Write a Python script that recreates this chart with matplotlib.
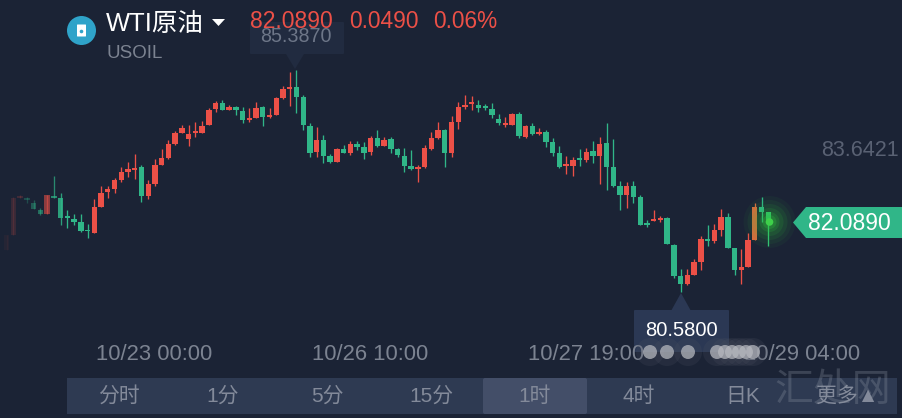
import matplotlib
matplotlib.use('Agg')
import matplotlib.pyplot as plt
from matplotlib.patches import Circle, FancyBboxPatch, Polygon, Rectangle

# OHLC, one hourly candle per entry
opens = [81.43, 81.76, 82.58, 82.58, 82.46, 82.31, 82.22, 82.62, 82.58, 82.18,
         82.11, 82.04, 81.87, 81.81, 82.38, 82.71, 82.77, 82.97, 83.15, 83.19,
         83.26, 82.61, 82.88, 83.30, 83.46, 83.76, 84.01, 83.87, 84.00, 84.00,
         84.19, 84.53, 84.66, 84.52, 84.58, 84.49, 84.29, 84.34, 84.58, 84.35,
         84.41, 84.77, 84.97, 85.02, 84.79, 84.16, 83.59, 83.85, 83.49, 83.37,
         83.65, 83.56, 83.76, 83.70, 83.59, 83.90, 83.72, 83.87, 83.65, 83.50,
         83.28, 83.22, 83.25, 83.65, 83.90, 84.07, 83.57, 84.25, 84.58, 84.64,
         84.62, 84.60, 84.53, 84.31, 84.18, 84.18, 84.42, 83.92, 84.16, 83.98,
         84.03, 83.81, 83.57, 83.28, 83.28, 83.45, 83.41, 83.61, 83.50, 83.78,
         83.26, 82.84, 82.64, 82.84, 82.60, 82.02, 82.07, 82.08, 82.14, 81.54,
         80.86, 80.68, 80.88, 81.17, 81.67, 81.63, 81.87, 82.16, 81.48, 80.99,
         81.06, 81.65, 82.38, 82.27]
highs = [81.76, 82.60, 82.63, 82.60, 82.53, 82.35, 82.64, 83.05, 82.68, 82.30,
         82.22, 82.22, 82.00, 82.55, 82.83, 82.84, 83.01, 83.26, 83.37, 83.54,
         83.30, 82.96, 83.43, 83.65, 83.85, 84.05, 84.18, 84.17, 84.25, 84.27,
         84.55, 84.71, 84.72, 84.62, 84.60, 84.57, 84.55, 84.69, 84.60, 84.55,
         84.79, 85.04, 85.34, 85.39, 84.83, 84.22, 84.13, 83.96, 83.54, 83.68,
         83.73, 83.83, 83.83, 83.81, 83.94, 84.07, 83.91, 83.91, 83.68, 83.67,
         83.62, 83.30, 83.73, 84.03, 84.25, 84.09, 84.38, 84.69, 84.85, 84.82,
         84.73, 84.64, 84.67, 84.42, 84.36, 84.44, 84.47, 84.18, 84.22, 84.12,
         84.07, 83.89, 83.72, 83.50, 83.47, 83.65, 83.67, 83.83, 83.91, 84.23,
         83.87, 82.95, 82.93, 82.95, 82.64, 82.09, 82.32, 82.18, 82.16, 81.56,
         81.01, 81.01, 81.23, 81.73, 81.98, 82.00, 82.33, 82.25, 81.48, 81.45,
         81.80, 82.47, 82.60, 82.27]
lows = [81.43, 81.76, 82.58, 82.46, 82.33, 82.20, 82.22, 82.58, 81.98, 81.91,
        81.98, 81.83, 81.70, 81.80, 82.38, 82.57, 82.68, 82.93, 83.03, 82.99,
        82.49, 82.56, 82.84, 83.29, 83.44, 83.75, 84.00, 83.72, 83.91, 84.00,
        84.18, 84.47, 84.51, 84.51, 84.41, 84.23, 84.24, 84.33, 84.16, 84.33,
        84.40, 84.75, 84.60, 84.45, 84.06, 83.47, 83.48, 83.35, 83.35, 83.36,
        83.56, 83.51, 83.62, 83.43, 83.52, 83.70, 83.71, 83.56, 83.47, 83.15,
        83.19, 82.93, 83.23, 83.62, 83.88, 83.26, 83.47, 84.09, 84.53, 84.51,
        84.47, 84.51, 84.33, 84.18, 84.14, 84.17, 83.89, 83.90, 83.97, 83.97,
        83.70, 83.50, 83.23, 83.10, 83.06, 83.28, 83.37, 83.35, 82.88, 82.75,
        82.82, 82.30, 82.36, 82.47, 81.98, 81.94, 82.07, 82.05, 81.56, 80.82,
        80.51, 80.66, 80.87, 80.99, 81.52, 81.58, 81.73, 81.48, 80.88, 80.68,
        81.05, 81.64, 82.05, 81.52]
closes = [81.76, 82.57, 82.62, 82.53, 82.33, 82.22, 82.64, 82.58, 82.14, 82.14,
          82.05, 81.85, 81.84, 82.38, 82.69, 82.77, 82.97, 83.15, 83.21, 83.24,
          82.61, 82.88, 83.29, 83.46, 83.76, 84.00, 84.11, 83.98, 84.05, 84.16,
          84.51, 84.67, 84.52, 84.58, 84.50, 84.29, 84.33, 84.55, 84.36, 84.39,
          84.77, 84.97, 85.02, 84.80, 84.17, 83.57, 83.85, 83.50, 83.37, 83.66,
          83.57, 83.76, 83.69, 83.57, 83.90, 83.72, 83.85, 83.65, 83.52, 83.28,
          83.21, 83.26, 83.67, 83.90, 84.07, 83.57, 84.25, 84.58, 84.62, 84.69,
          84.55, 84.55, 84.40, 84.22, 84.22, 84.42, 83.94, 84.16, 83.98, 84.03,
          83.81, 83.57, 83.25, 83.32, 83.41, 83.41, 83.59, 83.50, 83.76, 83.26,
          82.84, 82.64, 82.84, 82.60, 81.98, 81.99, 82.11, 82.14, 81.56, 80.86,
          80.68, 80.88, 81.17, 81.67, 81.63, 81.87, 82.16, 81.48, 80.99, 81.06,
          81.65, 82.38, 82.27, 82.02]

time_labels = ['10/23 00:00', '10/26 10:00', '10/27 19:00', '10/29 04:00']
period_labels = ['分时', '1分', '5分', '15分', '1时', '4时', '日K', '更多▲']

bg = '#1b2335'
red = '#ec5047'
green = '#30b688'
grey = '#7c8391'
fonts = ['Liberation Sans', 'Noto Sans CJK SC', 'DejaVu Sans']

plt.rcParams['font.family'] = fonts

fig = plt.figure(figsize=(9.02, 4.18), dpi=100, facecolor=bg)

# price axes, whole figure, one candle every 6.74 px
ax = fig.add_axes([0, 0, 1, 1], facecolor=bg)
ax.set_xlim(-0.99, 132.84)
ax.set_ylim(77.734, 86.93)
ax.axis('off')

# the oldest candles fade out to the left
fade = [0.05, 0.14, 0.18, 0.28, 0.38, 0.5, 0.55, 0.7, 0.85]

for i in range(len(opens)):
    color = red if closes[i] >= opens[i] else green
    if i == 111:
        color = '#e0683f'
    if i == 113:
        color = '#35c27a'
    alpha = fade[i] if i < len(fade) else 1
    ax.vlines(i, lows[i], highs[i], color=color, linewidth=0.95, alpha=alpha, zorder=2)
    ax.bar(i, abs(closes[i] - opens[i]), bottom=min(opens[i], closes[i]), width=0.8,
           color=color, alpha=alpha, linewidth=0, zorder=3)

# screen furniture goes in pixel coordinates on top
ui = fig.add_axes([0, 0, 1, 1], facecolor='none')
ui.set_xlim(0, 902)
ui.set_ylim(418, 0)
ui.axis('off')

# glow on the last price
for r, a in [(26, 0.05), (22, 0.07), (18, 0.1), (14, 0.13), (10, 0.18), (7, 0.25)]:
    ui.add_patch(Circle((769.5, 222), r, color='#2fc43c', alpha=a, lw=0, zorder=4))
ui.add_patch(Circle((769.5, 222), 3.8, color='#3ed04a', lw=0, zorder=5))

# header
ui.add_patch(Circle((81.5, 30.5), 14.5, color='#2fa3c9', lw=0))
ui.add_patch(FancyBboxPatch((77.5, 25), 8, 11, boxstyle='round,pad=0.5', color='white', lw=0))
ui.add_patch(Circle((81.5, 31.5), 1.8, color='#2fa3c9', lw=0))
ui.text(106, 24, 'WTI原油', color='white', fontsize=18.4, va='center', ha='left')
ui.add_patch(Polygon([(212, 19), (225, 19), (218.5, 26)], color='white', lw=0))
ui.text(106, 53, 'USOIL', color=grey, fontsize=13.5, va='center', ha='left')

# tooltip on the high, drawn under the header numbers
ui.add_patch(FancyBboxPatch((251, 23), 92, 30, boxstyle='round,pad=1', color='#212b40', lw=0))
ui.add_patch(Polygon([(286, 54), (304, 54), (295, 69)], color='#212b40', lw=0))
ui.text(296, 36, '85.3870', color='#6d7688', fontsize=14.2, va='center', ha='center')

ui.text(250, 21, '82.0890', color=red, fontsize=16.5, va='center', ha='left')
ui.text(349, 21, '0.0490', color=red, fontsize=16.4, va='center', ha='left')
ui.text(433, 21, '0.06%', color=red, fontsize=16.3, va='center', ha='left')

ui.text(860, 151, '83.6421', color='#596173', fontsize=15.5, va='center', ha='center')

# last price tag
ui.add_patch(Polygon([(793, 222.5), (806, 207), (902, 207), (902, 238), (806, 238)],
                     color=green, lw=0))
ui.text(849, 223, '82.0890', color='white', fontsize=16.5, va='center', ha='center')

# tooltip on the low
ui.add_patch(FancyBboxPatch((635, 311), 93, 40, boxstyle='round,pad=1', color='#2b3854', lw=0))
ui.add_patch(Polygon([(671, 311), (691, 311), (681, 293)], color='#2b3854', lw=0))
ui.text(681, 330, '80.5800', color='white', fontsize=14.5, va='center', ha='center')

# time axis
for x, label in zip([154, 370, 586, 802], time_labels):
    ui.text(x, 354, label, color=grey, fontsize=15.8, va='center', ha='center')

# the loading dots that cover the axis labels
dots = [650, 667, 688, 717, 725, 732, 739, 746, 753]
for x in dots:
    ui.add_patch(Circle((x, 352), 14, color='#4a5060', alpha=0.22, lw=0, zorder=6))
for x in dots:
    ui.add_patch(Circle((x, 352), 7, color='#b4b6bd', alpha=0.75, lw=0, zorder=7))

# period buttons
ui.add_patch(Rectangle((67, 378), 830, 36, color='#2e3a52', lw=0))
ui.add_patch(FancyBboxPatch((485, 380), 100, 32, boxstyle='round,pad=2', color='#434e68', lw=0))
for x, label in zip([119, 223, 327, 431, 535, 639, 743, 847], period_labels):
    ui.text(x, 396, label, color='#838a9a', fontsize=15, va='center', ha='center')

# watermark
ui.text(833, 390, '汇处网', color='#8a92a0', alpha=0.3, fontsize=28, va='center', ha='center',
        family='Noto Sans CJK SC', weight='light')

fig.savefig('out.png', dpi=100, facecolor=bg)
